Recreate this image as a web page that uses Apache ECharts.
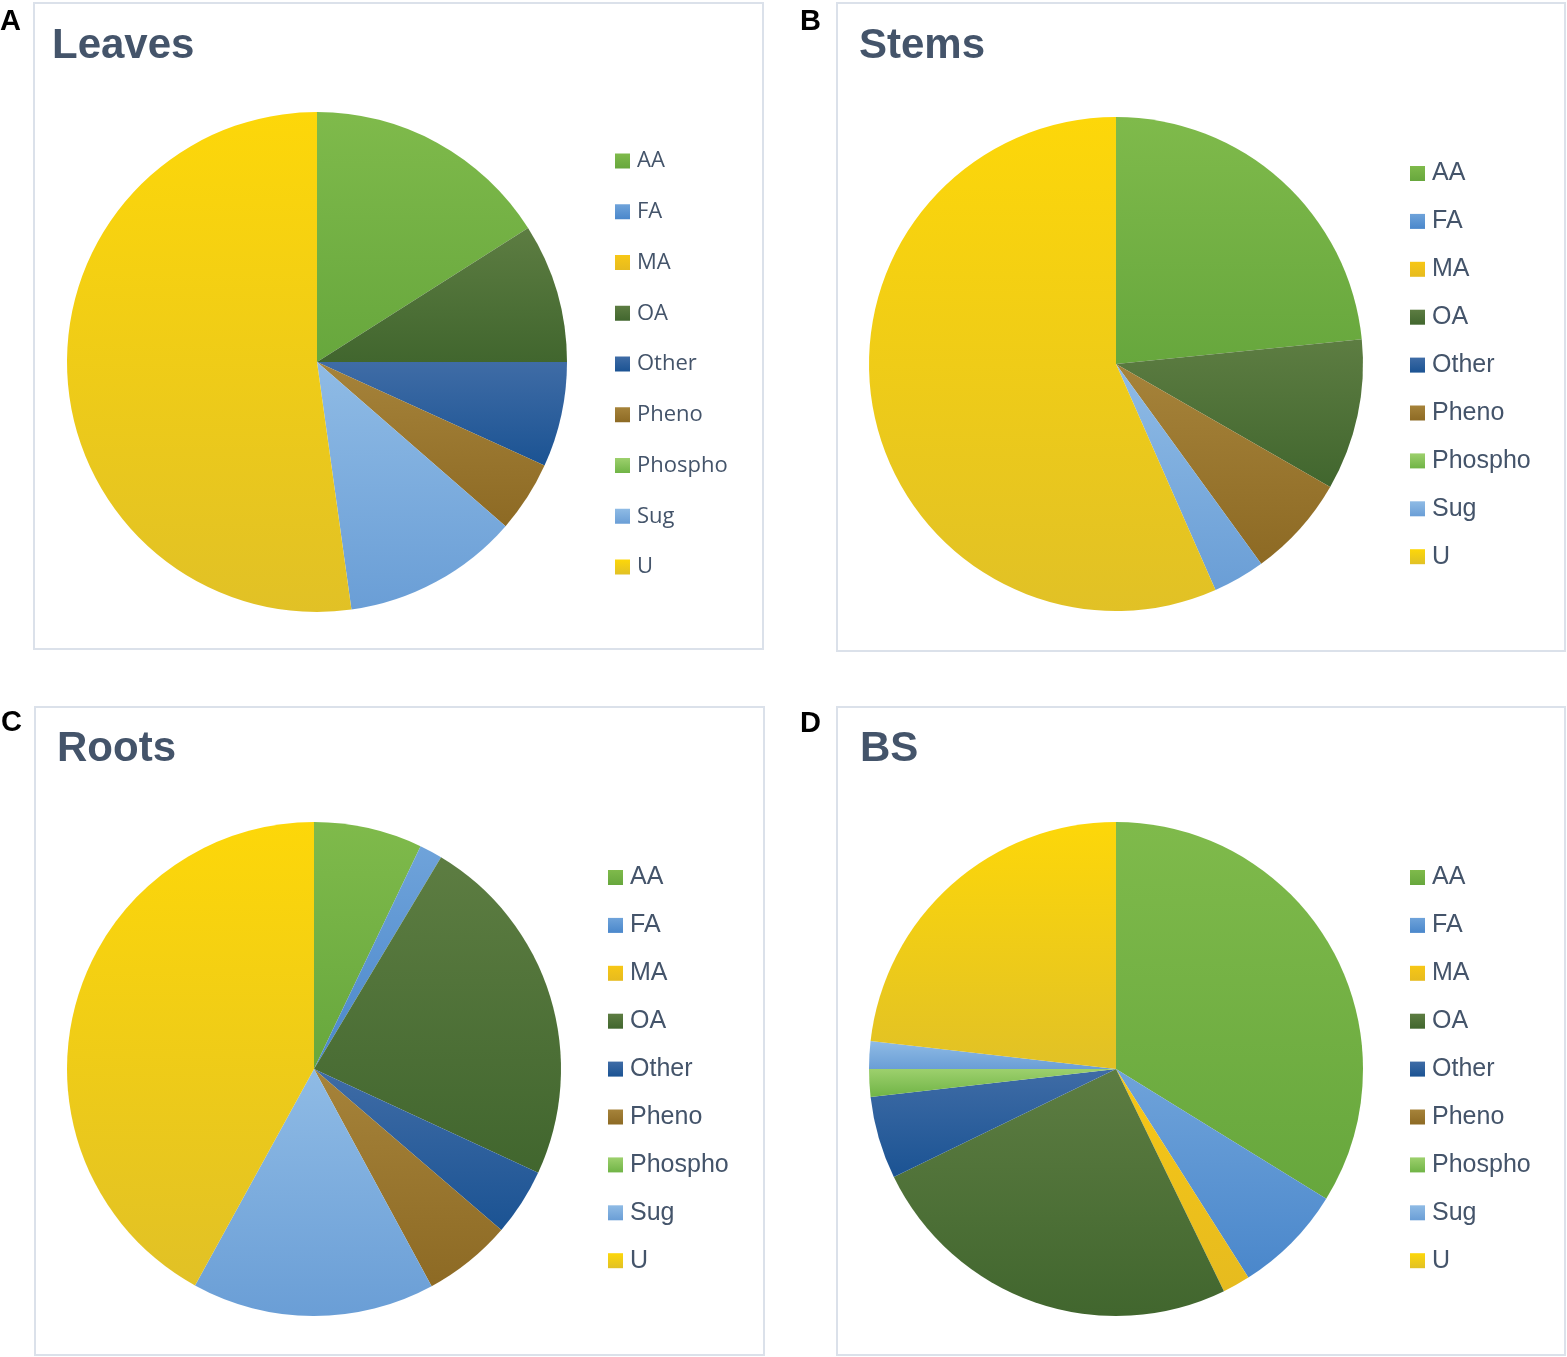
<!DOCTYPE html>
<html>
<head>
<meta charset="utf-8">
<script src="https://cdn.jsdelivr.net/npm/echarts@6/dist/echarts.min.js"></script>
<style>
  html, body { margin: 0; padding: 0; background: #fff; }
  #chart { width: 1567px; height: 1357px; }
</style>
</head>
<body>
<div id="chart"></div>
<script>
const categories = ['AA', 'FA', 'MA', 'OA', 'Other', 'Pheno', 'Phospho', 'Sug', 'U']
const panelTitles = ['Leaves', 'Stems', 'Roots', 'BS']
const panelLetters = ['A', 'B', 'C', 'D']

// percent of compounds per class
const leaves = [16.0, 0, 0, 9.0, 6.8, 4.6, 0, 11.4, 52.2]
const stems = [23.4, 0, 0, 9.9, 0, 6.7, 0, 3.4, 56.6]
const roots = [7.1, 1.5, 0, 23.3, 4.4, 5.8, 0, 15.9, 42.0]
const bs = [33.8, 7.2, 1.8, 25.0, 5.4, 0, 1.8, 1.8, 23.2]

// top / bottom colour of each slice gradient
const sliceColors = [
    ['#7fba4b', '#67a73d'],
    ['#6fa3da', '#4a87cb'],
    ['#f7c716', '#e6bb1f'],
    ['#5d7d42', '#41662e'],
    ['#3f6ca6', '#1b5393'],
    ['#a6833a', '#8d6a24'],
    ['#9dd06d', '#70b446'],
    ['#8fbbe5', '#6a9ed6'],
    ['#fdd709', '#e1c126']
]

const panels = [
    { values: leaves, center: [317, 362], radius: 250, box: [34, 3, 729, 646], title: [52, 46], letter: [0, 22],
      legend: { left: 610, top: 145, gap: 28.75, font: 22, family: '"Open Sans", sans-serif' } },
    { values: stems, center: [1116, 364], radius: 247, box: [837, 3, 728, 648], title: [859, 46], letter: [800, 22],
      legend: { left: 1405, top: 156, gap: 22.9, font: 25, family: '"Liberation Sans", Arial, sans-serif' } },
    { values: roots, center: [314, 1069], radius: 247, box: [35, 707, 729, 648], title: [57, 749], letter: [1, 723],
      legend: { left: 603, top: 860, gap: 22.9, font: 25, family: '"Liberation Sans", Arial, sans-serif' } },
    { values: bs, center: [1116, 1069], radius: 247, box: [837, 707, 728, 648], title: [860, 749], letter: [800, 724],
      legend: { left: 1405, top: 860, gap: 22.9, font: 25, family: '"Liberation Sans", Arial, sans-serif' } }
]

function sliceData(values) {
    return categories.map((name, i) => ({
        name: name,
        value: values[i],
        itemStyle: {
            color: new echarts.graphic.LinearGradient(0, 0, 0, 1, [
                { offset: 0, color: sliceColors[i][0] },
                { offset: 1, color: sliceColors[i][1] }
            ])
        }
    }))
}

const graphics = []
panels.forEach((p, k) => {
    graphics.push({
        type: 'rect',
        shape: { x: p.box[0], y: p.box[1], width: p.box[2], height: p.box[3] },
        style: { fill: 'none', stroke: '#dbe1ea', lineWidth: 2 },
        silent: true
    })
    graphics.push({
        type: 'text',
        x: p.title[0], y: p.title[1],
        style: {
            text: panelTitles[k], fill: '#44546a', fontSize: 42, fontWeight: 'bold',
            fontFamily: '"Liberation Sans", Arial, sans-serif', verticalAlign: 'middle'
        }
    })
    graphics.push({
        type: 'text',
        x: p.letter[0], y: p.letter[1],
        style: {
            text: panelLetters[k], fill: '#000', fontSize: 29, fontWeight: 'bold',
            fontFamily: '"Liberation Sans", Arial, sans-serif', verticalAlign: 'middle'
        }
    })
})

var myChart = echarts.init(document.getElementById('chart'))
const option = {
    backgroundColor: '#fff',
    animation: false,
    graphic: graphics,
    legend: panels.map(p => ({
        data: categories,
        orient: 'vertical',
        left: p.legend.left,
        top: p.legend.top,
        itemWidth: 15,
        itemHeight: 15,
        itemGap: p.legend.gap,
        icon: 'rect',
        selectedMode: false,
        textStyle: {
            color: '#44546a',
            fontSize: p.legend.font,
            lineHeight: p.legend.font,
            fontFamily: p.legend.family,
            padding: [0, 0, 0, 2]
        }
    })),
    series: panels.map((p, k) => ({
        name: panelTitles[k],
        type: 'pie',
        center: p.center,
        radius: p.radius,
        startAngle: 90,
        clockwise: true,
        label: { show: false },
        labelLine: { show: false },
        emphasis: { disabled: true },
        itemStyle: { borderWidth: 0 },
        data: sliceData(p.values)
    }))
}
myChart.setOption(option)
</script>
</body>
</html>
